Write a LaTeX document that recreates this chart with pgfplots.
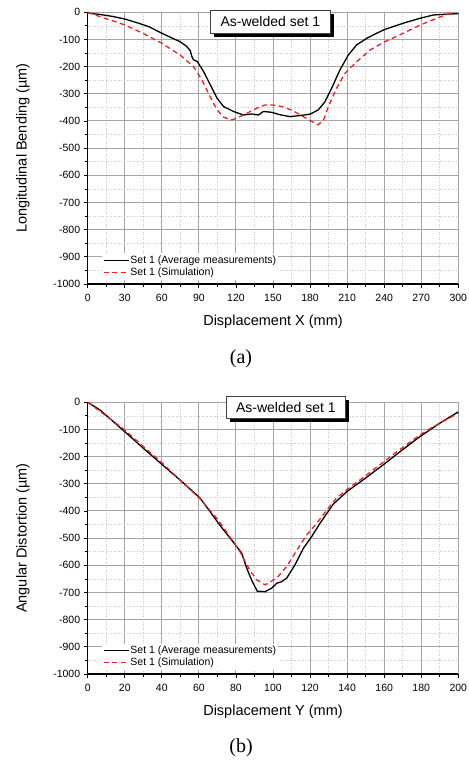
\documentclass[border=0pt]{standalone}
\usepackage{pgfplots}
\pgfplotsset{compat=1.18}
\usepackage{fontspec}
\setmainfont{Liberation Sans}
\newfontfamily\capfont{Liberation Serif}
\usetikzlibrary{shadows}
\definecolor{simred}{RGB}{240,30,30}
\definecolor{gridgray}{RGB}{165,165,165}

\tikzset{tbox/.style={draw=black!75, line width=0.6bp, fill=white, inner sep=0pt,
    font=\fontsize{14bp}{16bp}\selectfont,
    drop shadow={shadow xshift=3.5bp, shadow yshift=-3.5bp, fill=black, opacity=1}}}

\pgfplotsset{
  myax/.style={
    scale only axis, width=370.6bp, height=271.7bp,
    ymin=-1000, ymax=0, ytick={-1000,-900,...,0},
    minor tick num=1,
    axis x line*=bottom, axis y line*=left,
    axis line style={line width=1.1bp, black},
    tick align=outside, major tick length=4bp, minor tick length=2.5bp,
    tick style={black, line width=0.8bp},
    grid=both,
    major grid style={gridgray, line width=1bp},
    minor grid style={gridgray!60, line width=0.6bp, dotted},
    tick label style={font=\fontsize{10.5bp}{12bp}\selectfont},
    xticklabel style={yshift=-3bp},
    /pgf/number format/assume math mode=true,
    /pgf/number format/set thousands separator={},
    label style={font=\fontsize{14.5bp}{16bp}\selectfont},
    xlabel style={at={(axis description cs:0.5,-0.139)}, anchor=center},
    ylabel style={at={(axis description cs:-0.175,0.5)}, anchor=center},
    legend style={at={(axis description cs:0.038,0.113)}, anchor=north west,
      draw=none, fill=white, font=\fontsize{10.5bp}{12bp}\selectfont,
      inner xsep=1bp, inner ysep=1bp, row sep=1bp, nodes={inner sep=1.2bp}},
    legend cell align=left,
    legend image code/.code={\draw[##1] (0bp,0bp) -- (25bp,0bp);},
    clip=false,
  },
  meas/.style={black, line width=1.3bp, no markers},
  sim/.style={simred, line width=1.3bp, dash pattern=on 5bp off 3.5bp, no markers},
}

\begin{document}
\begin{tikzpicture}
\useasboundingbox (0,0) rectangle (469bp,-762bp);

\begin{axis}[myax, at={(87.7bp,-12.3bp)}, anchor=north west,
  xmin=0, xmax=300, xtick={0,30,...,300},
  xlabel={Displacement X (mm)}, ylabel={Longitudinal Bending (µm)}]
\addplot[meas] coordinates {
(0,0) (1.9,-4) (10,-8) (20,-15) (30.3,-25) (42.5,-42) (50,-54) (60,-77) (67,-92) (74.7,-108) (80,-125) (83,-141) (84.5,-165) (85.7,-175) (88.7,-181) (93.8,-218) (100.6,-279) (104.7,-316) (110,-347) (118,-365) (126,-378) (132.8,-374) (138.1,-378) (142.2,-365) (148.9,-368) (155.6,-377) (163.8,-384) (171.9,-380) (180,-375) (186.7,-359) (192.1,-329) (197.5,-279) (204.2,-212) (211,-157) (217.7,-120) (225.8,-96) (233.9,-77) (240.6,-63) (255.5,-40) (269,-22) (279.7,-10) (290,-7) (300,-5)
};
\addplot[sim] coordinates {
(0,0) (10,-16) (20,-31) (30.3,-47) (45,-78) (60,-114) (74.7,-157) (85.7,-200) (92.5,-249) (99,-310) (104.7,-359) (110,-386) (116.6,-396) (121,-389) (126,-378) (136.8,-353) (143.5,-341) (150,-341) (157.4,-347) (164,-358) (169.6,-371) (179,-396) (186.5,-414) (191,-396) (194.8,-347) (201.5,-279) (208.3,-224) (217.7,-182) (228.5,-139) (240.6,-108) (255.5,-77) (269,-47) (282.5,-22) (293.3,-4) (296,0)
};
\legend{Set 1 (Average measurements), Set 1 (Simulation)}
\node[tbox, minimum width=119.3bp, minimum height=23bp] at (rel axis cs:0.4929,0.9656) {As-welded set 1};
\end{axis}

\node[font=\capfont\fontsize{20bp}{24bp}\selectfont] at (241bp,-359bp) {(a)};

\begin{axis}[myax, at={(87.7bp,-402.3bp)}, anchor=north west,
  xmin=0, xmax=200, xtick={0,20,...,200},
  xlabel={Displacement Y (mm)}, ylabel={Angular Distortion (µm)}]
\addplot[meas] coordinates {
(0,0) (6.6,-28) (20,-108) (30,-169) (40.3,-230) (50,-287) (60.6,-352) (66,-402) (71.4,-453) (78.6,-515) (83.1,-555) (85.8,-610) (88.5,-655) (91.5,-695) (95.7,-697) (99.3,-684) (102,-666) (104.7,-660) (107.4,-647) (111.9,-598) (116.4,-537) (120.9,-494) (125.4,-445) (132.5,-375) (139.8,-329) (149.7,-280) (159.5,-230) (168.5,-182) (179.3,-126) (190,-77) (200,-35)
};
\addplot[sim] coordinates {
(0,0) (10,-50) (20,-102) (30,-163) (40.3,-224) (50,-287) (60.6,-355) (70,-430) (75,-478) (82.2,-550) (87.6,-620) (91.2,-653) (95.7,-672) (102,-647) (107.4,-604) (111.9,-555) (118.2,-488) (123.6,-445) (129.8,-390) (134,-354) (139.8,-322) (150.6,-267) (166.8,-182) (179.3,-120) (186.5,-90) (200,-40)
};
\legend{Set 1 (Average measurements), Set 1 (Simulation)}
\node[tbox, minimum width=118.3bp, minimum height=21.6bp] at (rel axis cs:0.5347,0.981) {As-welded set 1};
\end{axis}

\node[font=\capfont\fontsize{20bp}{24bp}\selectfont] at (241bp,-748bp) {(b)};
\end{tikzpicture}
\end{document}
